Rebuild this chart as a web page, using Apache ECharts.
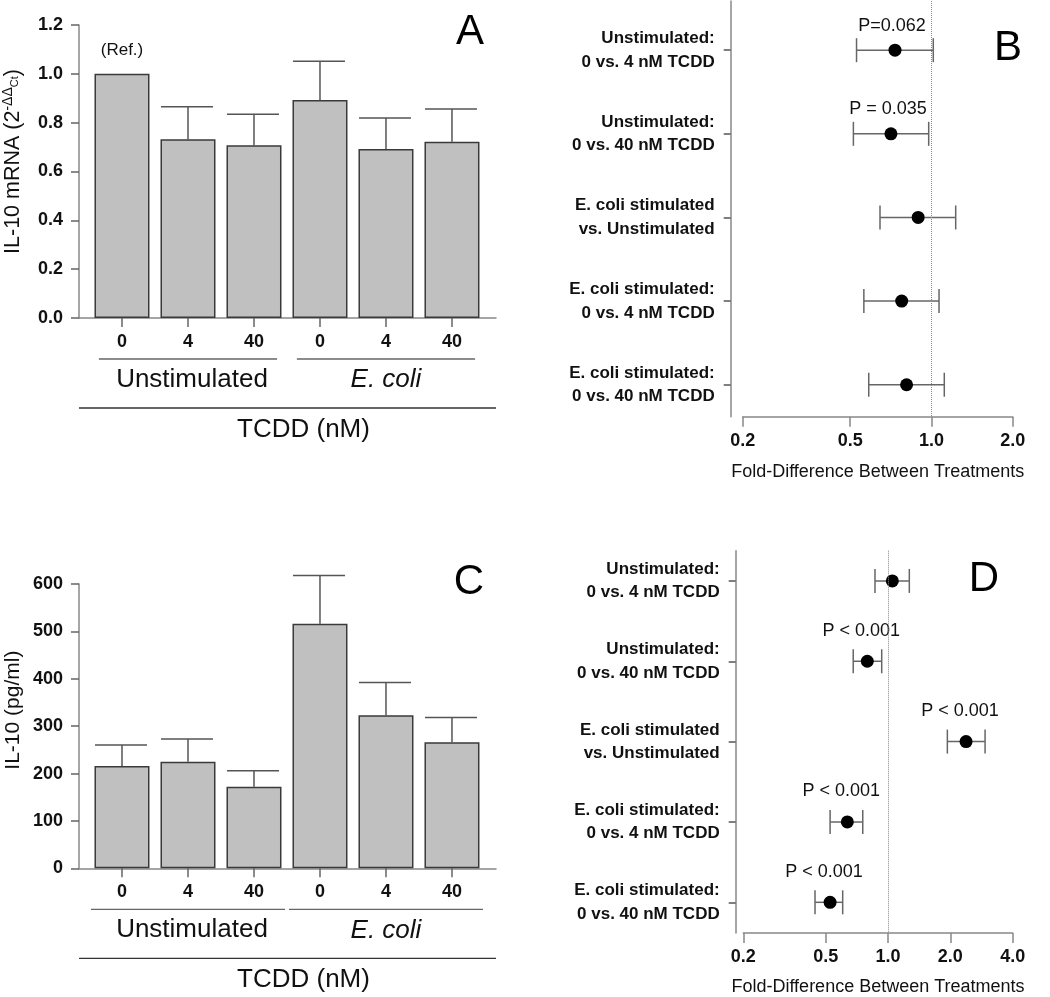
<!DOCTYPE html>
<html>
<head>
<meta charset="utf-8">
<script src="https://cdn.jsdelivr.net/npm/echarts@6/dist/echarts.min.js"></script>
<style>
    html, body {margin: 0; padding: 0; background: #fff;}
    #main {width: 1050px; height: 997px;}
</style>
</head>
<body>
<div id="main"></div>
<script>
const FONT = '"Liberation Sans", Arial, Helvetica, sans-serif';

// ------------------ data: bar panels (A, C) ------------------
const doses = ['0', '4', '40', '0', '4', '40'];
const groups = ['Unstimulated', 'E. coli'];
const mrnaMean = [1.00, 0.732, 0.708, 0.893, 0.692, 0.722];
const mrnaUpper = [null, 0.865, 0.834, 1.052, 0.819, 0.856];
const il10Mean = [216, 225, 172, 516, 323, 266];
const il10Upper = [260, 273, 206, 618, 392, 318];

// ------------------ data: fold-difference panels (B, D) ------------------
const comparisons = [
    'Unstimulated:\n0 vs. 4 nM TCDD',
    'Unstimulated:\n0 vs. 40 nM TCDD',
    'E. coli stimulated\nvs. Unstimulated',
    'E. coli stimulated:\n0 vs. 4 nM TCDD',
    'E. coli stimulated:\n0 vs. 40 nM TCDD'
];
const mrnaFold = [0.733, 0.708, 0.893, 0.776, 0.809];
const mrnaLow = [0.528, 0.514, 0.645, 0.562, 0.586];
const mrnaHigh = [1.016, 0.977, 1.230, 1.067, 1.116];
const mrnaP = ['P=0.062', 'P = 0.035', '', '', ''];
const il10Fold = [1.049, 0.794, 2.381, 0.636, 0.525];
const il10Low = [0.865, 0.679, 1.934, 0.525, 0.444];
const il10High = [1.267, 0.932, 2.942, 0.755, 0.604];
const il10P = ['', 'P < 0.001', 'P < 0.001', 'P < 0.001', 'P < 0.001'];
const foldTicksB = [0.2, 0.5, 1.0, 2.0];
const foldTicksD = [0.2, 0.5, 1.0, 2.0, 4.0];

// ------------------ layout ------------------
const X_MIN = -0.6515, X_MAX = 5.667;   // bar panels: category index on a value axis
const TCDD_X = 2.75;
const AXIS_GREY = '#888';
const INK = '#111';

function barXAxis(gridIndex) {
    return {
        type: 'value', gridIndex: gridIndex, min: X_MIN, max: X_MAX,
        splitLine: {show: false},
        axisLine: {show: true, onZero: false, lineStyle: {color: AXIS_GREY, width: 1.5}},
        axisTick: {show: true, customValues: [0, 1, 2, 3, 4, 5], length: 9, lineStyle: {color: '#666', width: 1.5}},
        axisLabel: {
            customValues: [0, 1, 2, 3, 4, 5], margin: 15,
            formatter: function (v) { return doses[Math.round(v)]; },
            fontSize: 18, fontWeight: 'bold', color: INK, fontFamily: FONT
        }
    };
}

function barYAxis(gridIndex, max, interval, digits, name, gap, nameStyle) {
    return {
        type: 'value', gridIndex: gridIndex, min: 0, max: max, interval: interval,
        splitLine: {show: false},
        axisLine: {show: true, onZero: false, lineStyle: {color: AXIS_GREY, width: 1.5}},
        axisTick: {show: true, length: 8, lineStyle: {color: '#666', width: 1.5}},
        axisLabel: {
            margin: 16, fontSize: 18, fontWeight: 'bold', color: INK, fontFamily: FONT,
            formatter: function (v) { return v.toFixed(digits); }
        },
        name: name, nameLocation: 'middle', nameGap: gap, nameRotate: 90,
        nameTextStyle: nameStyle
    };
}

function foldXAxis(gridIndex, ticks, gap) {
    const logTicks = ticks.map(Math.log10);
    return {
        type: 'value', gridIndex: gridIndex,
        min: Math.log10(ticks[0]), max: Math.log10(ticks[ticks.length - 1]),
        splitLine: {show: false},
        axisLine: {show: true, onZero: false, lineStyle: {color: AXIS_GREY, width: 1.5}},
        axisTick: {show: true, customValues: logTicks, length: 10, lineStyle: {color: AXIS_GREY, width: 1.5}},
        axisLabel: {
            customValues: logTicks, margin: 15, fontSize: 18, fontWeight: 'bold', color: INK, fontFamily: FONT,
            formatter: function (v) { return Math.pow(10, v).toFixed(1); }
        },
        name: 'Fold-Difference Between Treatments', nameLocation: 'middle', nameGap: gap,
        nameTextStyle: {fontSize: 18, color: INK, fontFamily: FONT}
    };
}

function foldYAxis(gridIndex, min, offset) {
    return {
        type: 'value', gridIndex: gridIndex, inverse: true, min: min, max: 4.382, offset: offset,
        splitLine: {show: false},
        axisLine: {show: true, onZero: false, lineStyle: {color: AXIS_GREY, width: 1.5}},
        axisTick: {show: true, customValues: [0, 1, 2, 3, 4], length: 7, lineStyle: {color: '#555', width: 1.5}},
        axisLabel: {
            customValues: [0, 1, 2, 3, 4], margin: 16, fontSize: 17, fontWeight: 'bold', lineHeight: 23.5,
            color: INK, fontFamily: FONT, align: 'right',
            formatter: function (v) { return comparisons[Math.round(v)]; }
        }
    };
}

function barSeries(axisIndex, mean, refLabel) {
    return {
        type: 'bar', xAxisIndex: axisIndex, yAxisIndex: axisIndex, barWidth: 55, z: 2,
        itemStyle: {color: '#c0c0c0', borderColor: '#3a3a3a', borderWidth: 1.5},
        data: mean.map(function (v, i) {
            let item = {value: [i, v]};
            if (refLabel && i === 0) {
                item.label = {show: true, position: 'top', distance: 15, formatter: refLabel,
                    fontSize: 17, color: INK, fontFamily: FONT};
            }
            return item;
        })
    };
}

function barErrorSeries(axisIndex, mean, upper) {
    let data = [];
    mean.forEach(function (v, i) {
        if (upper[i] !== null) data.push([i, v, upper[i]]);
    });
    return {
        type: 'custom', xAxisIndex: axisIndex, yAxisIndex: axisIndex, z: 1,
        encode: {x: 0, y: [1, 2]},
        data: data,
        renderItem: function (params, api) {
            const p0 = api.coord([api.value(0), api.value(1)]);
            const p1 = api.coord([api.value(0), api.value(2)]);
            const st = {stroke: '#555', lineWidth: 1.5};
            return {
                type: 'group', children: [
                    {type: 'line', shape: {x1: p0[0], y1: p0[1], x2: p1[0], y2: p1[1]}, style: st},
                    {type: 'line', shape: {x1: p1[0] - 27, y1: p1[1], x2: p1[0] + 25, y2: p1[1]}, style: st}
                ]
            };
        }
    };
}

// group underline, group names, long line and "TCDD (nM)" under the bar panels
function bracketSeries(axisIndex, ext) {
    return {
        type: 'custom', xAxisIndex: axisIndex, yAxisIndex: axisIndex, silent: true, clip: false,
        data: groups.map(function (g, i) { return [i, 0]; }),
        renderItem: function (params, api) {
            const g = api.value(0);
            const y0 = api.coord([0, 0])[1];
            const xa = api.coord([3 * g - ext, 0])[0];
            const xb = api.coord([3 * g + 2 + ext, 0])[0];
            let children = [
                {type: 'line', shape: {x1: xa, y1: y0 + 41, x2: xb, y2: y0 + 41},
                    style: {stroke: '#666', lineWidth: 1.3}},
                {type: 'text', x: (xa + xb) / 2 + (g === 0 ? 4 : 0), y: y0 + 62,
                    style: {text: groups[g], fill: INK, fontSize: 26, fontFamily: FONT,
                        fontStyle: g === 1 ? 'italic' : 'normal', align: 'center', verticalAlign: 'middle'}}
            ];
            if (g === 0) {
                const l = api.coord([X_MIN, 0])[0], r = api.coord([X_MAX, 0])[0];
                children.push({type: 'line', shape: {x1: l, y1: y0 + 90, x2: r, y2: y0 + 90},
                    style: {stroke: '#333', lineWidth: 1.3}});
                children.push({type: 'text', x: api.coord([TCDD_X, 0])[0], y: y0 + 112,
                    style: {text: 'TCDD (nM)', fill: INK, fontSize: 26, fontFamily: FONT,
                        align: 'center', verticalAlign: 'middle'}});
            }
            return {type: 'group', children: children};
        }
    };
}

function foldErrorSeries(axisIndex, low, high) {
    return {
        type: 'custom', xAxisIndex: axisIndex, yAxisIndex: axisIndex, z: 1,
        encode: {x: [0, 1], y: 2},
        data: low.map(function (v, i) { return [Math.log10(v), Math.log10(high[i]), i]; }),
        renderItem: function (params, api) {
            const a = api.coord([api.value(0), api.value(2)]);
            const b = api.coord([api.value(1), api.value(2)]);
            const st = {stroke: '#666', lineWidth: 1.5};
            return {
                type: 'group', children: [
                    {type: 'line', shape: {x1: a[0], y1: a[1], x2: b[0], y2: b[1]}, style: st},
                    {type: 'line', shape: {x1: a[0], y1: a[1] - 12, x2: a[0], y2: a[1] + 12}, style: st},
                    {type: 'line', shape: {x1: b[0], y1: b[1] - 12, x2: b[0], y2: b[1] + 12}, style: st}
                ]
            };
        }
    };
}

function foldPointSeries(axisIndex, fold, pvals, dist, dx) {
    return {
        type: 'scatter', xAxisIndex: axisIndex, yAxisIndex: axisIndex, z: 3,
        symbolSize: 13, itemStyle: {color: '#000', opacity: 1},
        data: fold.map(function (v, i) {
            return {
                value: [Math.log10(v), i],
                label: {show: pvals[i] !== '', formatter: pvals[i], position: 'top', distance: dist,
                    offset: [dx, 0], fontSize: 18, color: INK, fontFamily: FONT}
            };
        }),
        markLine: {
            silent: true, symbol: ['none', 'none'], label: {show: false},
            lineStyle: {type: 'dotted', color: '#888', width: 1},
            data: [{xAxis: 0}]
        }
    };
}

let myChart = echarts.init(document.getElementById('main'));

let option = {
    animation: false,
    backgroundColor: '#fff',
    textStyle: {fontFamily: FONT},
    grid: [
        {left: 79, top: 25, width: 417, height: 293},
        {left: 742.7, top: 1, width: 270, height: 415.7},
        {left: 79, top: 584, width: 417, height: 284.3},
        {left: 743.3, top: 550.7, width: 269.4, height: 383.3}
    ],
    xAxis: [
        barXAxis(0),
        foldXAxis(1, foldTicksB, 46),
        barXAxis(2),
        foldXAxis(3, foldTicksD, 45)
    ],
    yAxis: [
        barYAxis(0, 1.2, 0.2, 1, '{b|IL-10 mRNA (2}{sup|-ΔΔ}{sub|Ct}{b|)}', 53, {
            color: INK, padding: [0, 0, 0, 20],
            rich: {
                b: {fontSize: 21.5, lineHeight: 25, color: INK, fontFamily: FONT},
                sup: {fontSize: 14, verticalAlign: 'top', color: INK, fontFamily: FONT},
                sub: {fontSize: 11, verticalAlign: 'top', padding: [8, 0, 0, 0], color: INK, fontFamily: FONT}
            }
        }),
        foldYAxis(1, -0.588, 12),
        barYAxis(2, 600, 100, 0, 'IL-10 (pg/ml)', 55, {
            fontSize: 21, color: INK, fontFamily: FONT, padding: [0, 0, 0, 32]
        }),
        foldYAxis(3, -0.376, 7.6)
    ],
    graphic: [
        {type: 'text', x: 470, y: 32, style: {text: 'A', fontSize: 42, fill: '#000', fontFamily: FONT, align: 'center', verticalAlign: 'middle'}},
        {type: 'text', x: 1008, y: 48, style: {text: 'B', fontSize: 42, fill: '#000', fontFamily: FONT, align: 'center', verticalAlign: 'middle'}},
        {type: 'text', x: 469, y: 582, style: {text: 'C', fontSize: 42, fill: '#000', fontFamily: FONT, align: 'center', verticalAlign: 'middle'}},
        {type: 'text', x: 984, y: 579, style: {text: 'D', fontSize: 42, fill: '#000', fontFamily: FONT, align: 'center', verticalAlign: 'middle'}}
    ],
    series: [
        barSeries(0, mrnaMean, '(Ref.)'),
        barErrorSeries(0, mrnaMean, mrnaUpper),
        bracketSeries(0, 0.35),
        foldErrorSeries(1, mrnaLow, mrnaHigh),
        foldPointSeries(1, mrnaFold, mrnaP, 9, -3),
        barSeries(2, il10Mean, null),
        barErrorSeries(2, il10Mean, il10Upper),
        bracketSeries(2, 0.47),
        foldErrorSeries(3, il10Low, il10High),
        foldPointSeries(3, il10Fold, il10P, 15, -6)
    ]
};

if (option && typeof option === "object") {
    myChart.setOption(option, true);
}
</script>
</body>
</html>
